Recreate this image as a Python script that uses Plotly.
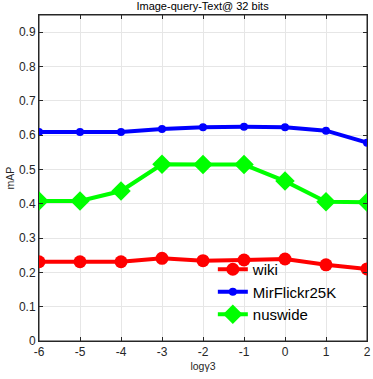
import plotly.graph_objects as go

# x axis: log gamma3
log_gamma3 = [-6, -5, -4, -3, -2, -1, 0, 1, 2]

# mAP values
wiki = [0.231, 0.231, 0.231, 0.241, 0.234, 0.236, 0.239, 0.222, 0.210]
mirflickr = [0.609, 0.609, 0.609, 0.618, 0.623, 0.624, 0.623, 0.613, 0.578]
nuswide = [0.408, 0.408, 0.437, 0.515, 0.514, 0.514, 0.466, 0.406, 0.404]

y_ticks = [0, 0.1, 0.2, 0.3, 0.4, 0.5, 0.6, 0.7, 0.8, 0.9]

fig = go.Figure()
fig.add_trace(go.Scatter(x=log_gamma3, y=wiki, name="wiki", mode="lines+markers",
                         line=dict(color="#ff0000", width=4),
                         marker=dict(symbol="circle", size=13, color="#ff0000")))
fig.add_trace(go.Scatter(x=log_gamma3, y=mirflickr, name="MirFlickr25K", mode="lines+markers",
                         line=dict(color="#0000ff", width=4),
                         marker=dict(symbol="circle", size=8, color="#0000ff")))
fig.add_trace(go.Scatter(x=log_gamma3, y=nuswide, name="nuswide", mode="lines+markers",
                         line=dict(color="#00ff00", width=4),
                         marker=dict(symbol="diamond", size=15, color="#00ff00")))

axis_common = dict(showline=True, linecolor="#262626", linewidth=1, mirror="allticks",
                   ticks="inside", ticklen=4, tickcolor="#262626", automargin=False,
                   showgrid=True, gridcolor="#e6e6e6", gridwidth=1, zeroline=False,
                   tickfont=dict(family="Liberation Sans", size=12, color="#262626"))

fig.update_layout(
    width=373, height=379,
    margin=dict(l=39, r=6, t=15, b=38),
    paper_bgcolor="white", plot_bgcolor="white",
    title=dict(text="Image-query-Text@ 32 bits", x=0.543, xanchor="center", y=0.995, yanchor="top",
               font=dict(family="Liberation Sans", size=11, color="black")),
    xaxis=dict(range=[-6, 2], tickvals=log_gamma3, ticktext=[str(v) for v in log_gamma3],
               title=dict(text="logγ3", standoff=4, font=dict(family="Liberation Sans", size=10.5, color="#262626")),
               **axis_common),
    yaxis=dict(range=[0, 0.95], tickvals=y_ticks, ticktext=[f"{v:g}" for v in y_ticks],
               title=dict(text="mAP", standoff=2, font=dict(family="Liberation Sans", size=10.5, color="#262626")),
               **axis_common),
    legend=dict(x=0.53, y=0.27, xanchor="left", yanchor="top", bgcolor="rgba(0,0,0,0)",
                font=dict(family="Liberation Sans", size=15, color="black"), itemwidth=30,
                tracegroupgap=0),
    showlegend=True,
)

# box frame around the plot area
fig.add_shape(type="rect", xref="paper", yref="paper", x0=0, y0=0, x1=1, y1=1,
              line=dict(color="#262626", width=1), layer="below")

fig.write_html("out.html", config={"displayModeBar": False},
               post_script="document.body.style.margin='0';document.body.style.overflow='hidden';")
